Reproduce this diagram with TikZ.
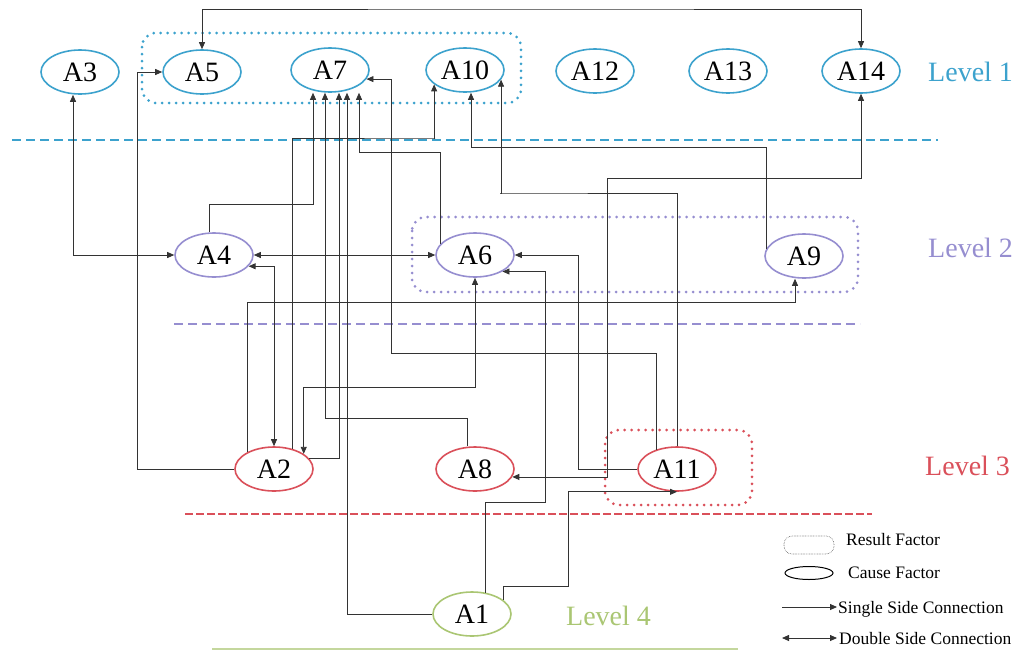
\documentclass[tikz,border=0pt]{standalone}
\usepackage{fontspec}
\setmainfont{Liberation Serif}
\usepackage{xcolor}
\usetikzlibrary{arrows.meta,shapes.geometric}
\definecolor{lvone}{RGB}{60,162,205}
\definecolor{lvtwo}{RGB}{150,142,208}
\definecolor{lvthree}{RGB}{218,80,90}
\definecolor{lvfour}{RGB}{170,198,115}

\begin{document}
\begin{tikzpicture}[
  x=1pt, y=-1pt,
  factor/.style={draw, ellipse, fill=white, line width=1.6pt, minimum width=78pt, minimum height=44pt, inner sep=0pt, font=\fontsize{28}{30}\selectfont},
  lvlabel/.style={anchor=base west, inner sep=0pt, font=\fontsize{28}{30}\selectfont},
  keytext/.style={anchor=base west, inner sep=0pt, font=\fontsize{17.5}{20}\selectfont},
  sarr/.style={-{Triangle[length=7pt,width=6pt]}, line width=0.8pt, draw=black!80},
  darr/.style={{Triangle[length=7pt,width=6pt]}-{Triangle[length=7pt,width=6pt]}, line width=0.8pt, draw=black!80},
  result/.style={rounded corners=14pt, line width=3pt, line cap=round, dash pattern=on 0pt off 7pt},
  levelline/.style={line width=2.2pt, dash pattern=on 9pt off 5pt}
]
\useasboundingbox (0,0) rectangle (1024,651);

\draw[levelline, lvone] (12,140) -- (938,140);
\draw[levelline, lvtwo] (174,324) -- (860,324);
\draw[levelline, lvthree, line width=1.8pt, dash pattern=on 8pt off 3pt] (185,514) -- (872,514);
\draw[lvfour!70, line width=1.2pt] (212,649) -- (738,649);

\draw[result, lvone] (142,33) rectangle (521,103);
\draw[result, lvtwo] (412,217) rectangle (858,292);
\draw[result, lvthree] (605,430) rectangle (752,505);

\node[factor, draw=lvone] (a3)  at (80,72)  {A3};
\node[factor, draw=lvone] (a5)  at (202,72) {A5};
\node[factor, draw=lvone] (a7)  at (330,70) {A7};
\node[factor, draw=lvone] (a10) at (465,70) {A10};
\node[factor, draw=lvone] (a12) at (595,71) {A12};
\node[factor, draw=lvone] (a13) at (728,71) {A13};
\node[factor, draw=lvone] (a14) at (861,71) {A14};
\node[factor, draw=lvtwo] (a4)  at (214,255) {A4};
\node[factor, draw=lvtwo] (a6)  at (475,255) {A6};
\node[factor, draw=lvtwo] (a9)  at (804,256) {A9};
\node[factor, draw=lvthree] (a2)  at (274,469) {A2};
\node[factor, draw=lvthree] (a8)  at (475,469) {A8};
\node[factor, draw=lvthree] (a11) at (677,469) {A11};
\node[factor, draw=lvfour] (a1)  at (472,614) {A1};

\node[lvlabel, text=lvone] (lv1) at (928,81) {Level 1};
\node[lvlabel, text=lvtwo] (lv2) at (928,257) {Level 2};
\node[lvlabel, text=lvthree] (lv3) at (925,475) {Level 3};
\node[lvlabel, text=lvfour] (lv4) at (566,625) {Level 4};

% links
\draw[darr] (a5.north) |- (530,9) -| (a14.north);
\draw[darr] (a3.south -| 73,0) |- (a4.west);
\draw[darr] (a4.east) -- (a6.west);
\draw[sarr] (a4.north -| 209,0) |- (313,204) -- (a7.south -| 313,0);
\draw[sarr] (a6.162) |- (359,152) -- (a7.south -| 359,0);
\draw[sarr] (a9.169) |- (471,147) -- (a10.south -| 471,0);
\draw[sarr] (a2.west) -| (137,72) -- (a5.west);
\draw[sarr] (a2.17) -| (a7.south -| 339,0);
\draw[sarr] (a2.47) |- (435,138) -| (a10.205);
\draw[sarr] (a2.148) |- (795,302) -- (a9.south -| 795,0);
\draw[darr] (a4.342) -| (a2.north);
\draw[darr] (a2.27) |- (475,387) -- (a6.south);
\draw[sarr] (a8.north -| 467,0) |- (325,418) -- (a7.south -| 325,0);
\draw[darr] (a8.348) -| (607,178) -| (a14.south);
\draw[sarr] (a11.137) |- (391,353) |- (a7.346);
\draw[sarr] (a11.north) |- (500,193) -| (a10.345);
\draw[sarr] (a11.west) -| (578,255) -- (a6.east);
\draw[sarr] (a1.west) -| (a7.south -| 347,0);
\draw[sarr] (a1.58) |- (545,502) |- (a6.329);
\draw[sarr] (a1.24) |- (568,586) |- (a11.south);

% legend
\draw[black!70, line width=0.8pt, dash pattern=on 0pt off 1.6pt, line cap=round, rounded corners=8pt] (784,536) rectangle (834,554);
\node[draw, ellipse, line width=1pt, minimum width=48pt, minimum height=13pt, inner sep=0pt] (keycause) at (809,573) {};
\coordinate (s0) at (782,607);
\coordinate (s1) at (837,607);
\coordinate (d0) at (782,638);
\coordinate (d1) at (837,638);
\draw[sarr] (s0) -- (s1);
\draw[darr] (d0) -- (d1);
\node[keytext] (keyresult) at (846,545) {Result Factor};
\node[keytext] (keycausetext) at (848,578) {Cause Factor};
\node[keytext] (keysingle) at (838,613) {Single Side Connection};
\node[keytext] (keydouble) at (839,644) {Double Side Connection};
\end{tikzpicture}
\end{document}
